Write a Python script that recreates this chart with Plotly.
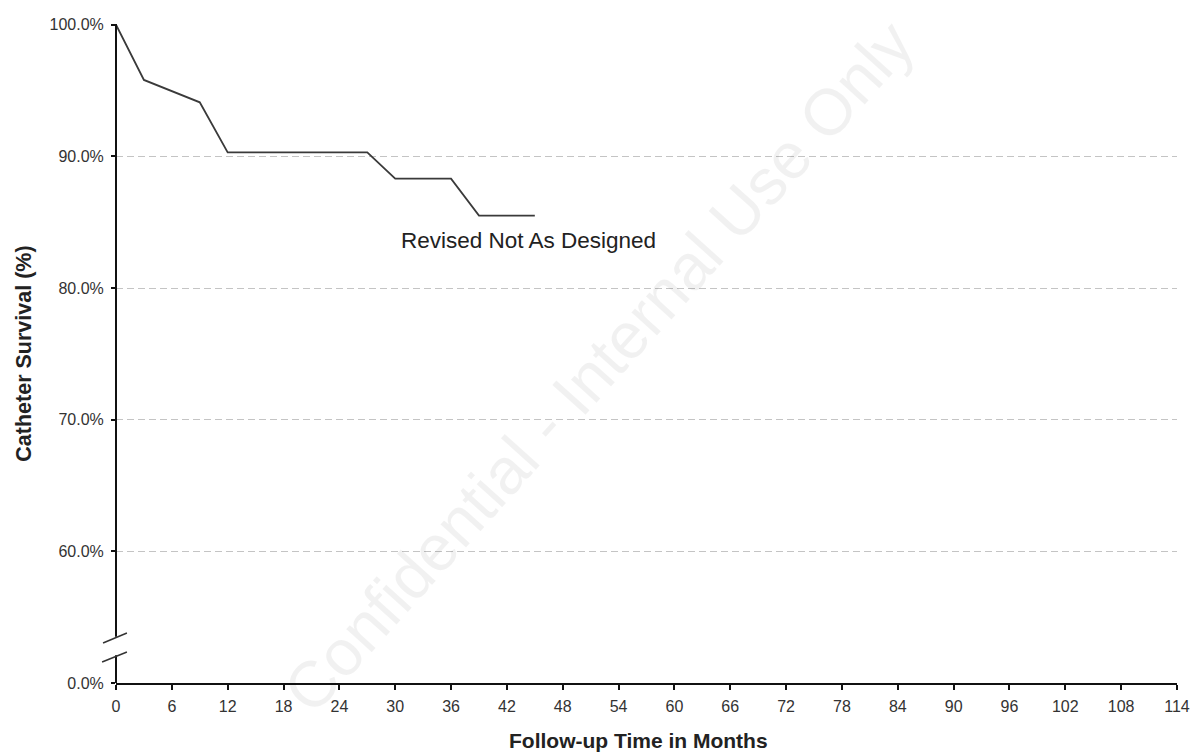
import plotly.graph_objects as go

# Kaplan-Meier estimate for catheters revised not as designed
months = [0, 3, 9, 12, 27, 30, 36, 39, 45]
survival = [100.0, 95.8, 94.1, 90.3, 90.3, 88.3, 88.3, 85.5, 85.5]

x_ticks = list(range(0, 115, 6))
# The axis is broken below 60%: the baseline slot at 50 carries the 0.0% label
y_tickvals = [50, 60, 70, 80, 90, 100]
y_ticktext = ["0.0%", "60.0%", "70.0%", "80.0%", "90.0%", "100.0%"]

FONT = "Liberation Sans, Arial, sans-serif"

fig = go.Figure()
fig.add_trace(go.Scatter(
    x=months, y=survival, mode="lines",
    line=dict(color="#3a3a3a", width=1.8),
    showlegend=False, hoverinfo="skip", cliponaxis=False,
))

axis_color = "#111111"
shapes = [
    # y axis line, interrupted by the break
    dict(type="line", xref="paper", yref="paper", x0=0, x1=0, y0=0.0, y1=0.042,
         line=dict(color=axis_color, width=2)),
    dict(type="line", xref="paper", yref="paper", x0=0, x1=0, y0=0.070, y1=1.0,
         line=dict(color=axis_color, width=2)),
    # break marks
    dict(type="line", xref="paper", yref="paper", x0=-0.0122, x1=0.0103, y0=0.0607, y1=0.0759,
         line=dict(color="#333333", width=1.5)),
    dict(type="line", xref="paper", yref="paper", x0=-0.0131, x1=0.0103, y0=0.0319, y1=0.0470,
         line=dict(color="#333333", width=1.5)),
]

annotations = [
    # faint diagonal watermark
    dict(text="Confidential - Internal Use Only", x=0.455, y=0.48, xref="paper", yref="paper",
         showarrow=False, textangle=-48, xanchor="center", yanchor="middle",
         font=dict(family=FONT, size=65, color="rgba(0,0,0,0.055)")),
    dict(text="Revised Not As Designed", x=44.3, y=83.6, xref="x", yref="y",
         showarrow=False, font=dict(family=FONT, size=22.5, color="#222222")),
    dict(text="<b>Follow-up Time in Months</b>", x=0.492, y=-0.088, xref="paper", yref="paper",
         showarrow=False, xanchor="center", yanchor="middle",
         font=dict(family=FONT, size=21, color="#222222")),
    dict(text="<b>Catheter Survival (%)</b>", x=-0.0875, y=0.5, xref="paper", yref="paper",
         showarrow=False, textangle=-90, xanchor="center", yanchor="middle",
         font=dict(family=FONT, size=21.5, color="#222222")),
]

fig.update_layout(
    width=1202, height=753,
    margin=dict(l=116, r=19, t=24, b=70),
    paper_bgcolor="white", plot_bgcolor="white",
    font=dict(family=FONT, size=16, color="#333333"),
    shapes=shapes, annotations=annotations,
    xaxis=dict(
        range=[0, 114], tickvals=x_ticks, ticktext=[str(v) for v in x_ticks],
        showgrid=False, zeroline=False,
        showline=True, linecolor=axis_color, linewidth=2,
        ticks="outside", ticklen=5, tickwidth=1.5, tickcolor=axis_color,
        ticklabelstandoff=3,
        tickfont=dict(family=FONT, size=16, color="#333333"),
    ),
    yaxis=dict(
        range=[50, 100.05], tickvals=y_tickvals, ticktext=y_ticktext,
        showgrid=True, gridcolor="#c4c4c4", gridwidth=1.2, griddash="7px,4px",
        zeroline=False, showline=False,
        ticks="outside", ticklen=4, tickwidth=1.5, tickcolor=axis_color,
        ticklabelstandoff=4,
        tickfont=dict(family=FONT, size=16, color="#333333"),
    ),
)

fig.write_html("out.html")
